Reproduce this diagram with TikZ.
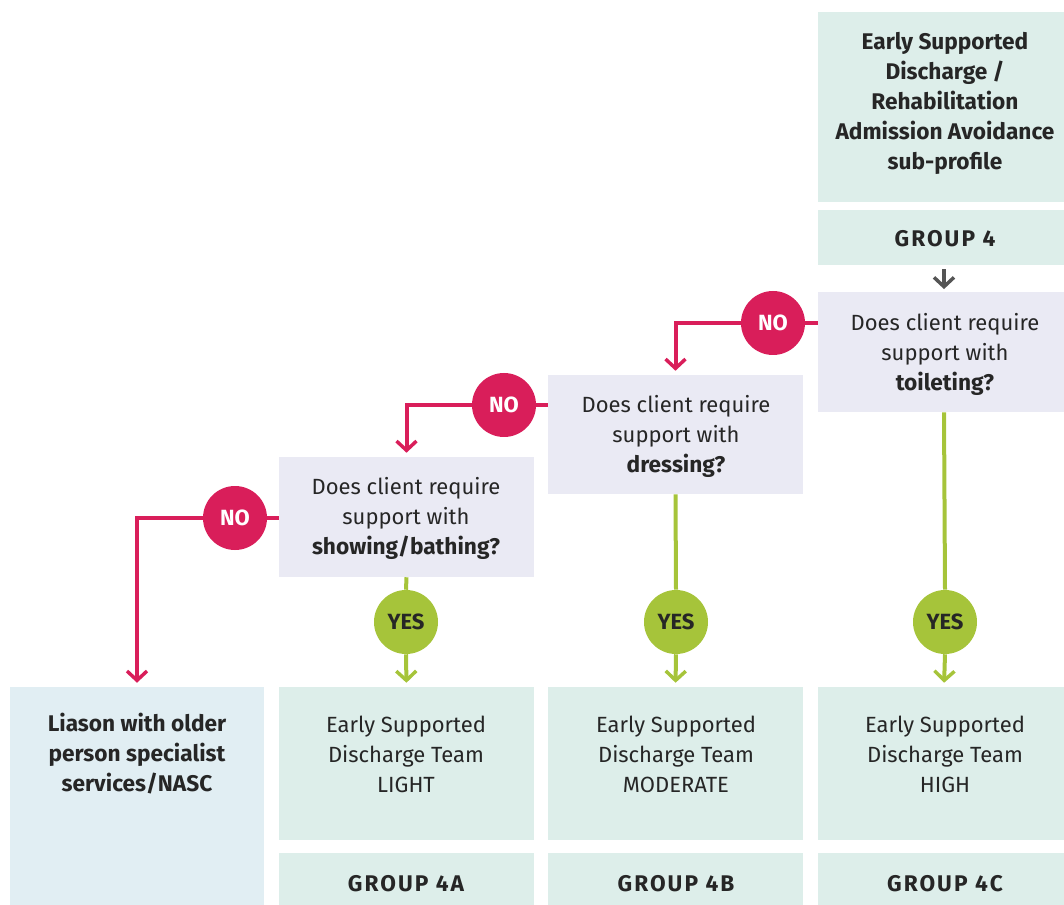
\documentclass[tikz,border=0pt]{standalone}
\usepackage{fontspec}
\setmainfont{Fira Sans}
\usetikzlibrary{arrows.meta,fit}
\definecolor{tealbox}{HTML}{DDEEEA}
\definecolor{lavbox}{HTML}{EAEAF4}
\definecolor{bluebox}{HTML}{E1EEF3}
\definecolor{nored}{HTML}{D91E5A}
\definecolor{yesgreen}{HTML}{A6C43A}
\definecolor{txtc}{HTML}{262626}
\definecolor{arrgray}{HTML}{555555}
\newcommand{\bq}[1]{{\fontsize{17}{22.5}\selectfont\bfseries #1}}
\tikzset{
  box/.style={draw=none,inner sep=0pt,rectangle},
  txt/.style={align=center,text=txtc,font=\fontsize{16.5}{22.5}\selectfont},
  btxt/.style={align=center,text=txtc,font=\fontsize{17}{22.5}\selectfont\bfseries},
  gtxt/.style={align=center,text=txtc,font=\fontsize{17}{22.5}\selectfont\bfseries\addfontfeature{LetterSpace=9}},
  nocirc/.style={circle,fill=nored,minimum size=48pt,inner sep=0pt,text=white,font=\fontsize{16.5}{18}\selectfont\bfseries},
  yescirc/.style={circle,fill=yesgreen,minimum size=48pt,inner sep=0pt,text=txtc,font=\fontsize{16.5}{18}\selectfont\bfseries},
  noline/.style={draw=nored,line width=3pt},
  yesline/.style={draw=yesgreen,line width=3pt},
  tip/.style={-{Straight Barb[length=7pt,width=15pt,line width=2.6pt]}}
}
\begin{document}
\begin{tikzpicture}[x=0.75pt,y=-0.75pt]
\useasboundingbox (0,0) rectangle (1064,905);
\clip (0,0) rectangle (1064,905);
% boxes
\node[box,fill=tealbox,fit={(818,12) (1070,202)}] (top) {};
\node[box,fill=tealbox,fit={(818,210) (1070,265)}] (g4) {};
\node[box,fill=lavbox,fit={(818,292) (1070,412)}] (q1) {};
\node[box,fill=lavbox,fit={(548,375) (803,494)}] (q2) {};
\node[box,fill=lavbox,fit={(279,457) (534,577)}] (q3) {};
\node[box,fill=bluebox,fit={(10,687) (264,910)}] (r0) {};
\node[box,fill=tealbox,fit={(279,687) (534,840)}] (r1) {};
\node[box,fill=tealbox,fit={(548,687) (803,840)}] (r2) {};
\node[box,fill=tealbox,fit={(818,687) (1070,840)}] (r3) {};
\node[box,fill=tealbox,fit={(279,853) (534,910)}] (g1) {};
\node[box,fill=tealbox,fit={(548,853) (803,910)}] (g2) {};
\node[box,fill=tealbox,fit={(818,853) (1070,910)}] (g3) {};
% texts
\node[btxt] at (945,103.5) {Early Supported\\Discharge /\\Rehabilitation\\Admission Avoidance\\sub-profile};
\node[gtxt] at (945,239) {GROUP 4};
\node[txt] at (945,354) {Does client require\\support with\\\bq{toileting?}};
\node[txt] at (676,436) {Does client require\\support with\\\bq{dressing?}};
\node[txt] at (406,518) {Does client require\\support with\\\bq{showing/bathing?}};
\node[btxt] at (137,754) {Liason with older\\person specialist\\services/NASC};
\node[txt] at (406,754) {Early Supported\\Discharge Team\\LIGHT};
\node[txt] at (676,754) {Early Supported\\Discharge Team\\MODERATE};
\node[txt] at (945,754) {Early Supported\\Discharge Team\\HIGH};
\node[gtxt] at (406,884) {GROUP 4A};
\node[gtxt] at (676,884) {GROUP 4B};
\node[gtxt] at (945,884) {GROUP 4C};
% circles
\node[nocirc] (no1) at (773,323) {NO};
\node[nocirc] (no2) at (504,405) {NO};
\node[nocirc] (no3) at (235,518) {NO};
\node[yescirc] (yes1) at (406,622) {YES};
\node[yescirc] (yes2) at (676,622) {YES};
\node[yescirc] (yes3) at (945,622) {YES};
% connectors
\draw[draw=arrgray,line width=2.6pt,tip,shorten >=2pt,shorten <=3pt] (g4.south) -- (q1.north);
\draw[noline] (q1.west |- no1.center) -- (no1.east);
\draw[noline,tip,shorten >=3pt] (no1.west) -| (q2.north);
\draw[noline] (q2.west |- no2.center) -- (no2.east);
\draw[noline,tip,shorten >=3pt] (no2.west) -| (q3.north);
\draw[noline] (q3.west |- no3.center) -- (no3.east);
\draw[noline,tip,shorten >=3pt] (no3.west) -| (r0.north);
\draw[yesline] (q3.south) -- (yes1.north);
\draw[yesline,tip,shorten >=3pt] (yes1.south) -- (r1.north);
\draw[yesline] (q2.south) -- (yes2.north);
\draw[yesline,tip,shorten >=3pt] (yes2.south) -- (r2.north);
\draw[yesline] (q1.south) -- (yes3.north);
\draw[yesline,tip,shorten >=3pt] (yes3.south) -- (r3.north);
\end{tikzpicture}
\end{document}
